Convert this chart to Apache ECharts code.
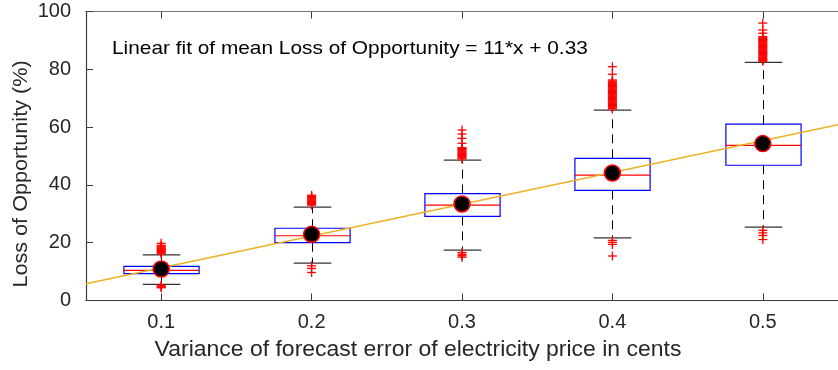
<!DOCTYPE html>
<html>
<head>
<meta charset="utf-8">
<script src="https://cdn.jsdelivr.net/npm/echarts@6/dist/echarts.min.js"></script>
<style>
  html, body { margin: 0; padding: 0; background: #ffffff; }
  #chart { width: 838px; height: 370px; }
</style>
</head>
<body>
<div id="chart"></div>
<script>
// Forecast-error variance levels (one box per level)
const categories = ['0.1', '0.2', '0.3', '0.4', '0.5'];
const yTicks = [0, 20, 40, 60, 80, 100];

// Box statistics, Loss of Opportunity (%)
const q1          = [9.3, 20.0, 29.1, 38.1, 46.8];
const q3          = [11.8, 25.0, 37.0, 49.2, 61.0];
const medians     = [10.4, 22.4, 33.0, 43.4, 53.7];
const means       = [10.9, 22.9, 33.4, 44.1, 54.3];
const whiskerLow  = [5.6, 12.9, 17.4, 21.7, 25.4];
const whiskerHigh = [15.8, 32.3, 48.6, 65.9, 82.4];

// Outlying runs per level
const outliers01 = [16.1, 16.4, 16.7, 17.0, 17.3, 17.6, 17.9, 18.2, 18.5, 18.8, 19.1, 19.8,
                    5.3, 5.0, 4.7, 4.4];
const outliers02 = [33.0, 33.3, 33.6, 33.9, 34.2, 34.5, 34.8, 35.1, 35.4, 35.7, 36.0, 36.4,
                    12.0, 11.1, 9.7];
const outliers03 = [49.0, 49.3, 49.6, 49.9, 50.2, 50.5, 50.8, 51.1, 51.4, 51.7, 52.0, 52.3, 52.6, 52.9,
                    54.4, 56.1, 57.6, 59.0,
                    16.6, 16.0, 15.5, 15.0];
const outliers04 = [66.3, 66.6, 66.9, 67.2, 67.5, 67.8, 68.1, 68.4, 68.7, 69.0, 69.3, 69.6, 69.9,
                    70.2, 70.5, 70.8, 71.1, 71.4, 71.7, 72.0, 72.3, 72.6, 72.9, 73.2, 73.5, 73.8,
                    74.1, 74.4, 74.7, 75.0, 75.3, 75.6, 75.9, 76.3,
                    78.3, 80.9,
                    20.8, 20.1, 19.4, 15.4];
const outliers05 = [82.8, 83.1, 83.4, 83.7, 84.0, 84.3, 84.6, 84.9, 85.2, 85.5, 85.8, 86.1, 86.4,
                    86.7, 87.0, 87.3, 87.6, 87.9, 88.2, 88.5, 88.8, 89.1, 89.4, 89.7, 90.0, 90.3,
                    90.6, 90.9, 91.3,
                    92.5, 93.6, 96.0,
                    24.3, 23.4, 22.5, 21.1];
const outlierSets = [outliers01, outliers02, outliers03, outliers04, outliers05];

// Linear fit of the means against level index
const fitSlope = 11;
const fitIntercept = 0.33;
const fitLabel = 'Linear fit of mean Loss of Opportunity = 11*x + 0.33';

const FONT = '"Liberation Sans", Arial, Helvetica, sans-serif';
const AXIS_COLOR = '#3c3c3c';
const TEXT_COLOR = '#262626';

const boxData = categories.map((c, i) =>
  [i + 1, q1[i], q3[i], medians[i], whiskerLow[i], whiskerHigh[i]]);
const outlierData = [];
outlierSets.forEach((set, i) => set.forEach(v => outlierData.push([i + 1, v])));
const meanData = categories.map((c, i) => [i + 1, means[i]]);
const xMin = 0.5, xMax = categories.length + 0.5;
const fitData = [[xMin, fitSlope * xMin + fitIntercept], [xMax, fitSlope * xMax + fitIntercept]];
const tickPositions = categories.map((c, i) => i + 1);

function renderBox(params, api) {
  const x = api.value(0);
  const halfBox = api.size([0.25, 0])[0];
  const halfCap = api.size([0.125, 0])[0];
  const p = v => api.coord([x, v]);
  const cx = Math.round(p(0)[0]) + 0.5;
  const yQ1 = p(api.value(1))[1];
  const yQ3 = p(api.value(2))[1];
  const yMed = p(api.value(3))[1];
  const yLo = p(api.value(4))[1];
  const yHi = p(api.value(5))[1];
  const dash = { stroke: '#000', lineWidth: 1, lineDash: [9, 6] };
  const cap = { stroke: '#333', lineWidth: 1.2 };
  return {
    type: 'group',
    children: [
      { type: 'line', shape: { x1: cx, y1: yQ3, x2: cx, y2: yHi }, style: dash },
      { type: 'line', shape: { x1: cx, y1: yQ1, x2: cx, y2: yLo }, style: dash },
      { type: 'line', shape: { x1: cx - halfCap, y1: yHi, x2: cx + halfCap, y2: yHi }, style: cap },
      { type: 'line', shape: { x1: cx - halfCap, y1: yLo, x2: cx + halfCap, y2: yLo }, style: cap },
      { type: 'rect', shape: { x: cx - halfBox, y: yQ3, width: 2 * halfBox, height: yQ1 - yQ3 },
        style: { fill: 'rgba(0,0,0,0)', stroke: '#0000ff', lineWidth: 1.2 } },
      { type: 'line', shape: { x1: cx - halfBox, y1: yMed, x2: cx + halfBox, y2: yMed },
        style: { stroke: '#ff0000', lineWidth: 1.2 } }
    ]
  };
}

function renderOutlier(params, api) {
  const pt = api.coord([api.value(0), api.value(1)]);
  const h = 4.5;
  const st = { stroke: '#ff0000', lineWidth: 1.3 };
  return {
    type: 'group',
    children: [
      { type: 'line', shape: { x1: pt[0] - h, y1: pt[1], x2: pt[0] + h, y2: pt[1] }, style: st },
      { type: 'line', shape: { x1: pt[0], y1: pt[1] - h, x2: pt[0], y2: pt[1] + h }, style: st }
    ]
  };
}

const chart = echarts.init(document.getElementById('chart'), null, { renderer: 'canvas' });

chart.setOption({
  animation: false,
  backgroundColor: '#ffffff',
  grid: { left: 86, top: 11.5, width: 761, height: 289, containLabel: false },
  xAxis: [
    {
      type: 'value', min: xMin, max: xMax, position: 'bottom',
      axisLine: { show: true, lineStyle: { color: AXIS_COLOR, width: 1.2 } },
      axisTick: { show: true, inside: true, length: 7, customValues: tickPositions,
                  lineStyle: { color: AXIS_COLOR } },
      axisLabel: { show: true, customValues: tickPositions, margin: 12,
                   formatter: v => categories[Math.round(v) - 1],
                   fontSize: 20, fontFamily: FONT, color: TEXT_COLOR },
      splitLine: { show: false }
    },
    {
      type: 'value', min: xMin, max: xMax, position: 'top',
      axisLine: { show: true, lineStyle: { color: '#777', width: 1.2 } },
      axisTick: { show: true, inside: true, length: 7, customValues: tickPositions,
                  lineStyle: { color: AXIS_COLOR } },
      axisLabel: { show: false },
      splitLine: { show: false }
    }
  ],
  yAxis: {
    type: 'value', min: yTicks[0], max: yTicks[yTicks.length - 1], interval: 20,
    axisLine: { show: true, lineStyle: { color: AXIS_COLOR, width: 1.2 } },
    axisTick: { show: true, inside: true, length: 7, lineStyle: { color: AXIS_COLOR } },
    axisLabel: { margin: 15, fontSize: 20, fontFamily: FONT, color: TEXT_COLOR },
    splitLine: { show: false }
  },
  series: [
    {
      type: 'custom', name: 'boxes', renderItem: renderBox, data: boxData, z: 2,
      encode: { x: 0, y: [1, 2, 3, 4, 5] }
    },
    {
      type: 'custom', name: 'outliers', renderItem: renderOutlier, data: outlierData, z: 3,
      encode: { x: 0, y: 1 }
    },
    {
      type: 'line', name: 'fit', data: fitData, showSymbol: false, symbol: 'none', z: 4,
      lineStyle: { color: '#EDB120', width: 1.5 }
    },
    {
      type: 'scatter', name: 'mean', data: meanData, symbol: 'circle', symbolSize: 16, z: 5,
      itemStyle: { color: '#000000', borderColor: '#ff0000', borderWidth: 1.5, opacity: 1 }
    }
  ],
  graphic: [
    {
      type: 'text', x: 112, y: 49, scaleX: 1.097,
      style: { text: fitLabel, font: '19px ' + FONT, fill: '#000000',
               align: 'left', verticalAlign: 'middle' }
    },
    {
      type: 'text', x: 21, y: 174, rotation: Math.PI / 2, scaleX: 1.03,
      style: { text: 'Loss of Opportunity (%)', font: '21px ' + FONT, fill: TEXT_COLOR,
               align: 'center', verticalAlign: 'middle' }
    },
    {
      type: 'text', x: 418, y: 350, scaleX: 1.044,
      style: { text: 'Variance of forecast error of electricity price in cents', font: '22px ' + FONT,
               fill: TEXT_COLOR, align: 'center', verticalAlign: 'middle' }
    }
  ]
});
</script>
</body>
</html>
